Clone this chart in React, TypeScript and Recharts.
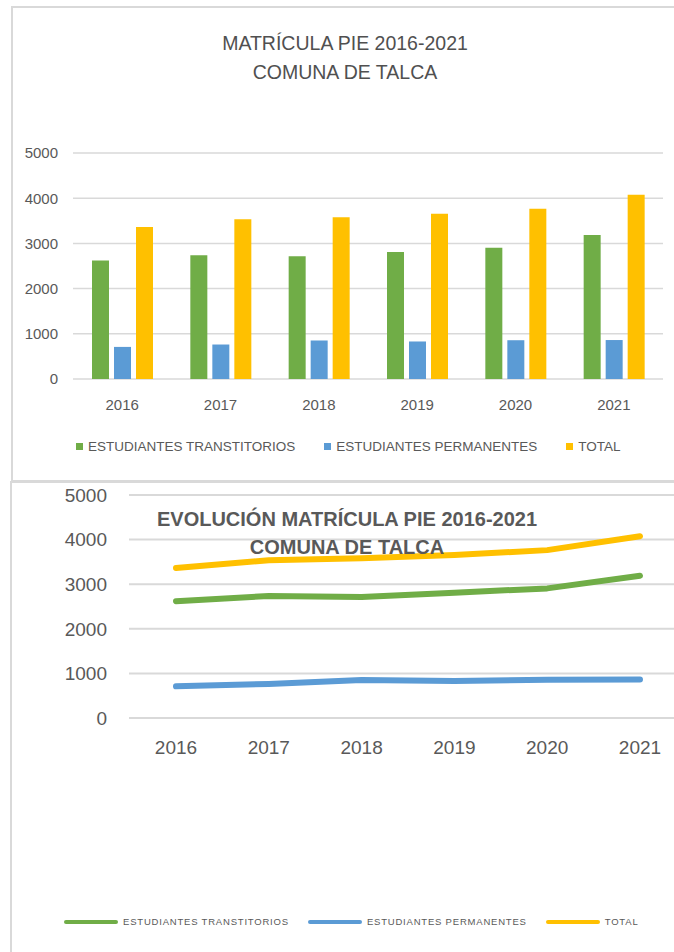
import { Bar, BarChart, CartesianGrid, Line, LineChart, XAxis, YAxis } from "recharts";

const YEARS = ["2016", "2017", "2018", "2019", "2020", "2021"];
const TRANSITORIOS = [2620, 2737, 2715, 2811, 2906, 3188];
const PERMANENTES = [710, 763, 852, 830, 858, 862];
const TOTAL = [3365, 3536, 3580, 3654, 3764, 4075];
const Y_TICKS = [0, 1000, 2000, 3000, 4000, 5000];
const SERIES = [
  { key: "transitorios", name: "ESTUDIANTES TRANSTITORIOS", color: "#70AD47" },
  { key: "permanentes", name: "ESTUDIANTES PERMANENTES", color: "#5B9BD5" },
  { key: "total", name: "TOTAL", color: "#FFC000" },
];

const FONT = "'Liberation Sans', Arial, sans-serif";
const TEXT = "#595959";
const GRID = "#d9d9d9";

const rows = YEARS.map((year, i) => ({
  year,
  transitorios: TRANSITORIOS[i],
  permanentes: PERMANENTES[i],
  total: TOTAL[i],
}));

function BarPanel() {
  return (
    <div style={{ position: "absolute", left: 0, top: 0, width: 674, height: 480 }}>
      <div
        style={{
          position: "absolute",
          left: 11,
          top: 6,
          width: 720,
          height: 472,
          border: `2px solid ${GRID}`,
        }}
      />
      <div
        style={{
          position: "absolute",
          left: 0,
          width: 690,
          top: 29,
          textAlign: "center",
          color: "#505050",
          fontSize: 19.5,
          lineHeight: "29px",
          fontFamily: FONT,
        }}
      >
        MATRÍCULA PIE 2016-2021
        <br />
        COMUNA DE TALCA
      </div>
      <div style={{ position: "absolute", left: 0, top: 0 }}>
        <BarChart
          width={674}
          height={478}
          data={rows}
          margin={{ top: 153, right: 11, bottom: 39, left: 0 }}
          barSize={17}
          barGap={5}
        >
          <CartesianGrid stroke={GRID} strokeWidth={1.5} vertical={false} />
          <XAxis
            dataKey="year"
            axisLine={false}
            tickLine={false}
            tickSize={0}
            tickMargin={20}
            height={60}
            tick={{ fill: TEXT, fontSize: 15, fontFamily: FONT }}
          />
          <YAxis
            domain={[0, 5000]}
            ticks={Y_TICKS}
            axisLine={false}
            tickLine={false}
            tickSize={0}
            tickMargin={15}
            width={73}
            tick={{ fill: TEXT, fontSize: 15, fontFamily: FONT }}
          />
          {SERIES.map((s) => (
            <Bar key={s.key} dataKey={s.key} name={s.name} fill={s.color} isAnimationActive={false} />
          ))}
        </BarChart>
      </div>
      <div
        style={{
          position: "absolute",
          left: 76,
          top: 439,
          display: "flex",
          alignItems: "center",
          fontFamily: FONT,
          fontSize: 13.5,
          color: TEXT,
          whiteSpace: "nowrap",
        }}
      >
        {SERIES.map((s) => (
          <div key={s.key} style={{ display: "flex", alignItems: "center", marginRight: 29 }}>
            <span style={{ width: 7, height: 7, background: s.color, marginRight: 5 }} />
            <span>{s.name}</span>
          </div>
        ))}
      </div>
    </div>
  );
}

function LinePanel() {
  return (
    <div style={{ position: "absolute", left: 0, top: 481, width: 674, height: 471 }}>
      <div
        style={{
          position: "absolute",
          left: 10,
          top: 0,
          width: 720,
          height: 520,
          border: `2px solid ${GRID}`,
        }}
      />
      <div style={{ position: "absolute", left: 0, top: 0 }}>
        <LineChart
          width={700}
          height={471}
          data={rows}
          margin={{ top: 14, right: 13, bottom: 194, left: 0 }}
        >
          <CartesianGrid stroke={GRID} strokeWidth={2} vertical={false} />
          <XAxis
            dataKey="year"
            axisLine={false}
            tickLine={false}
            tickSize={0}
            tickMargin={23}
            height={40}
            padding={{ left: 47, right: 47 }}
            tick={{ fill: TEXT, fontSize: 19, fontFamily: FONT }}
          />
          <YAxis
            domain={[0, 5000]}
            ticks={Y_TICKS}
            axisLine={false}
            tickLine={false}
            tickSize={0}
            tickMargin={22}
            width={129}
            tick={{ fill: TEXT, fontSize: 19, fontFamily: FONT }}
          />
          {SERIES.map((s) => (
            <Line
              key={s.key}
              type="linear"
              dataKey={s.key}
              name={s.name}
              stroke={s.color}
              strokeWidth={6}
              strokeLinecap="round"
              strokeLinejoin="round"
              dot={false}
              activeDot={false}
              isAnimationActive={false}
            />
          ))}
        </LineChart>
      </div>
      <div
        style={{
          position: "absolute",
          left: 0,
          width: 694,
          top: 24,
          textAlign: "center",
          color: TEXT,
          fontSize: 20,
          fontWeight: "bold",
          lineHeight: "28px",
          fontFamily: FONT,
        }}
      >
        EVOLUCIÓN MATRÍCULA PIE 2016-2021
        <br />
        COMUNA DE TALCA
      </div>
      <div
        style={{
          position: "absolute",
          left: 64,
          top: 435,
          display: "flex",
          alignItems: "center",
          fontFamily: FONT,
          fontSize: 9.5,
          letterSpacing: 0.8,
          color: TEXT,
          whiteSpace: "nowrap",
        }}
      >
        {SERIES.map((s) => (
          <div key={s.key} style={{ display: "flex", alignItems: "center", marginRight: 19 }}>
            <span
              style={{ width: 54, height: 4, borderRadius: 2, background: s.color, marginRight: 5 }}
            />
            <span>{s.name}</span>
          </div>
        ))}
      </div>
    </div>
  );
}

export default function App() {
  return (
    <div
      style={{
        position: "absolute",
        left: 0,
        top: 0,
        width: 674,
        height: 952,
        overflow: "hidden",
        background: "#fff",
      }}
    >
      <BarPanel />
      <LinePanel />
    </div>
  );
}
